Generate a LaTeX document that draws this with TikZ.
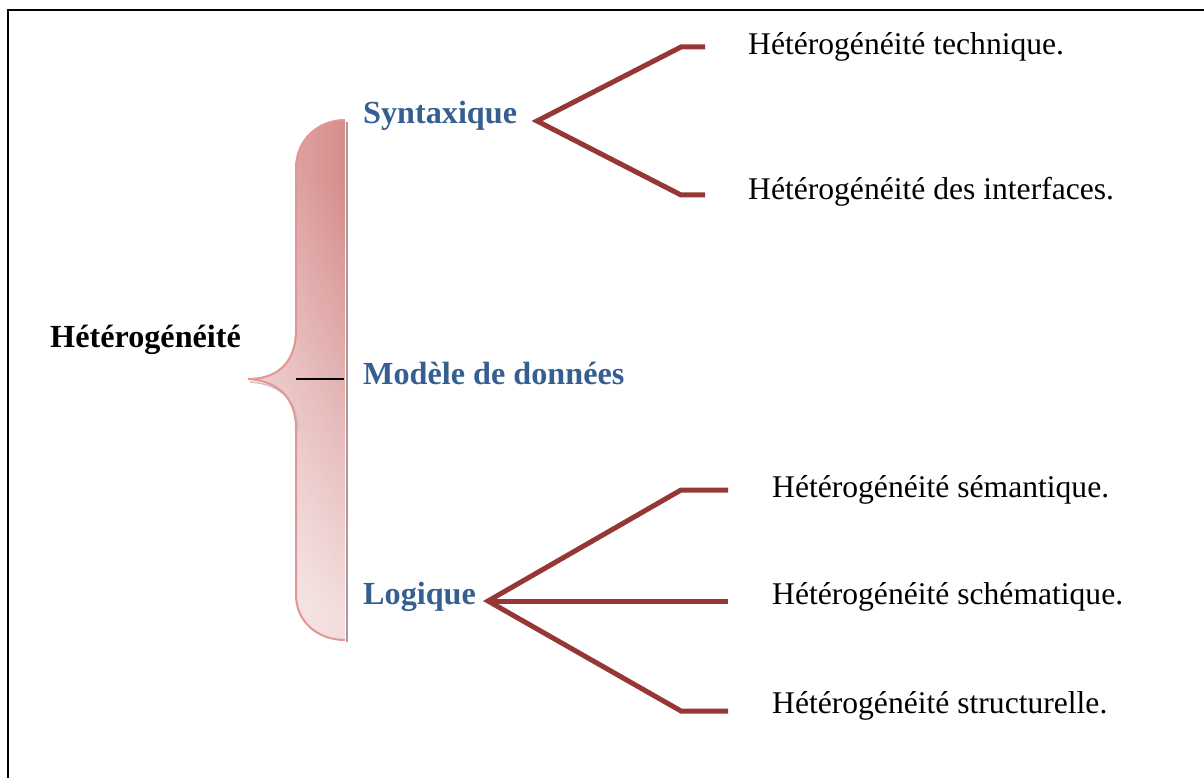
\documentclass[tikz,border=0pt]{standalone}
\usepackage{fontspec}
\setmainfont{Liberation Serif}
\usetikzlibrary{calc,fadings}
\definecolor{headblue}{RGB}{54,95,145}
\definecolor{branchred}{RGB}{149,55,53}
\definecolor{bracedark}{RGB}{214,142,141}
\definecolor{bracemid}{RGB}{236,200,199}
\definecolor{bracelight}{RGB}{243,221,221}
\definecolor{braceedge}{RGB}{226,150,150}
\definecolor{braceshadow}{RGB}{176,150,152}
\tikzset{
  leaf/.style={anchor=west, inner sep=0pt, font=\fontsize{31.6}{36}\selectfont},
  head/.style={anchor=west, inner sep=0pt, text=headblue, font=\fontsize{32.2}{38}\selectfont\bfseries},
  root/.style={anchor=west, inner sep=0pt, font=\fontsize{32.2}{38}\selectfont\bfseries},
  branch/.style={draw=branchred, line width=5pt, line join=miter},
  bracepath/.style={insert path={
    (345,120) .. controls (318,120) and (296,140) .. (296,168)
    -- (296,330) .. controls (296,360) and (280,379) .. (248,379)
    .. controls (280,381) and (296,400) .. (296,428)
    -- (296,595) .. controls (296,622) and (318,640) .. (345,640)}},
}
\begin{document}
\begin{tikzpicture}[x=1pt, y=-1pt]
\useasboundingbox (0,0) rectangle (1204,778);

% frame
\draw[line width=2pt] (8,1000) -- (8,10) -- (1300,10);

% curly brace: vertical gradient, lightened towards its left side
\shade[top color=bracedark, middle color=bracemid, bottom color=bracelight, shading angle=-25]
  [bracepath] -- cycle;
\fill[white, fill opacity=0.35, path fading=east] [bracepath] -- cycle;
\draw[braceshadow, line width=2pt] (347,122) -- (347,642);
\draw[braceshadow!60, line width=1.5pt] (250,382) .. controls (282,384) and (298,402) .. (298,430);
\draw[braceedge, line width=2pt] [bracepath];
\coordinate (tipL) at (296,379);
\coordinate (tipR) at (344,379);
\draw[line width=1.3pt] (tipL) -- (tipR);

% labels
\node[root] (het) at (50,340) {Hétérogénéité};
\node[head] (syn) at (363,116) {Syntaxique};
\node[head] (mod) at (363,373) {Modèle de données};
\node[head] (log) at (363,597) {Logique};

\node[leaf] (t1) at (748,47) {Hétérogénéité technique.};
\node[leaf] (t2) at (748,192) {Hétérogénéité des interfaces.};
\node[leaf] (t3) at (772,490) {Hétérogénéité sémantique.};
\node[leaf] (t4) at (772,597) {Hétérogénéité schématique.};
\node[leaf] (t5) at (772,706) {Hétérogénéité structurelle.};

% branches of Syntaxique
\coordinate (sv) at (537,121);
\coordinate (s1) at (681,47);  \coordinate (s1e) at (705,47);
\coordinate (s2) at (681,195); \coordinate (s2e) at (705,195);
\draw[branch] (s1e) -- (s1) -- (sv) -- (s2) -- (s2e);

% branches of Logique
\coordinate (lv) at (488,601);
\coordinate (l1) at (681,490); \coordinate (l1e) at (728,490);
\coordinate (l2e) at (728,601);
\coordinate (l3) at (681,711); \coordinate (l3e) at (728,711);
\draw[branch] (l1e) -- (l1) -- (lv) -- (l3) -- (l3e);
\draw[branch] (lv) -- (l2e);
\end{tikzpicture}
\end{document}
